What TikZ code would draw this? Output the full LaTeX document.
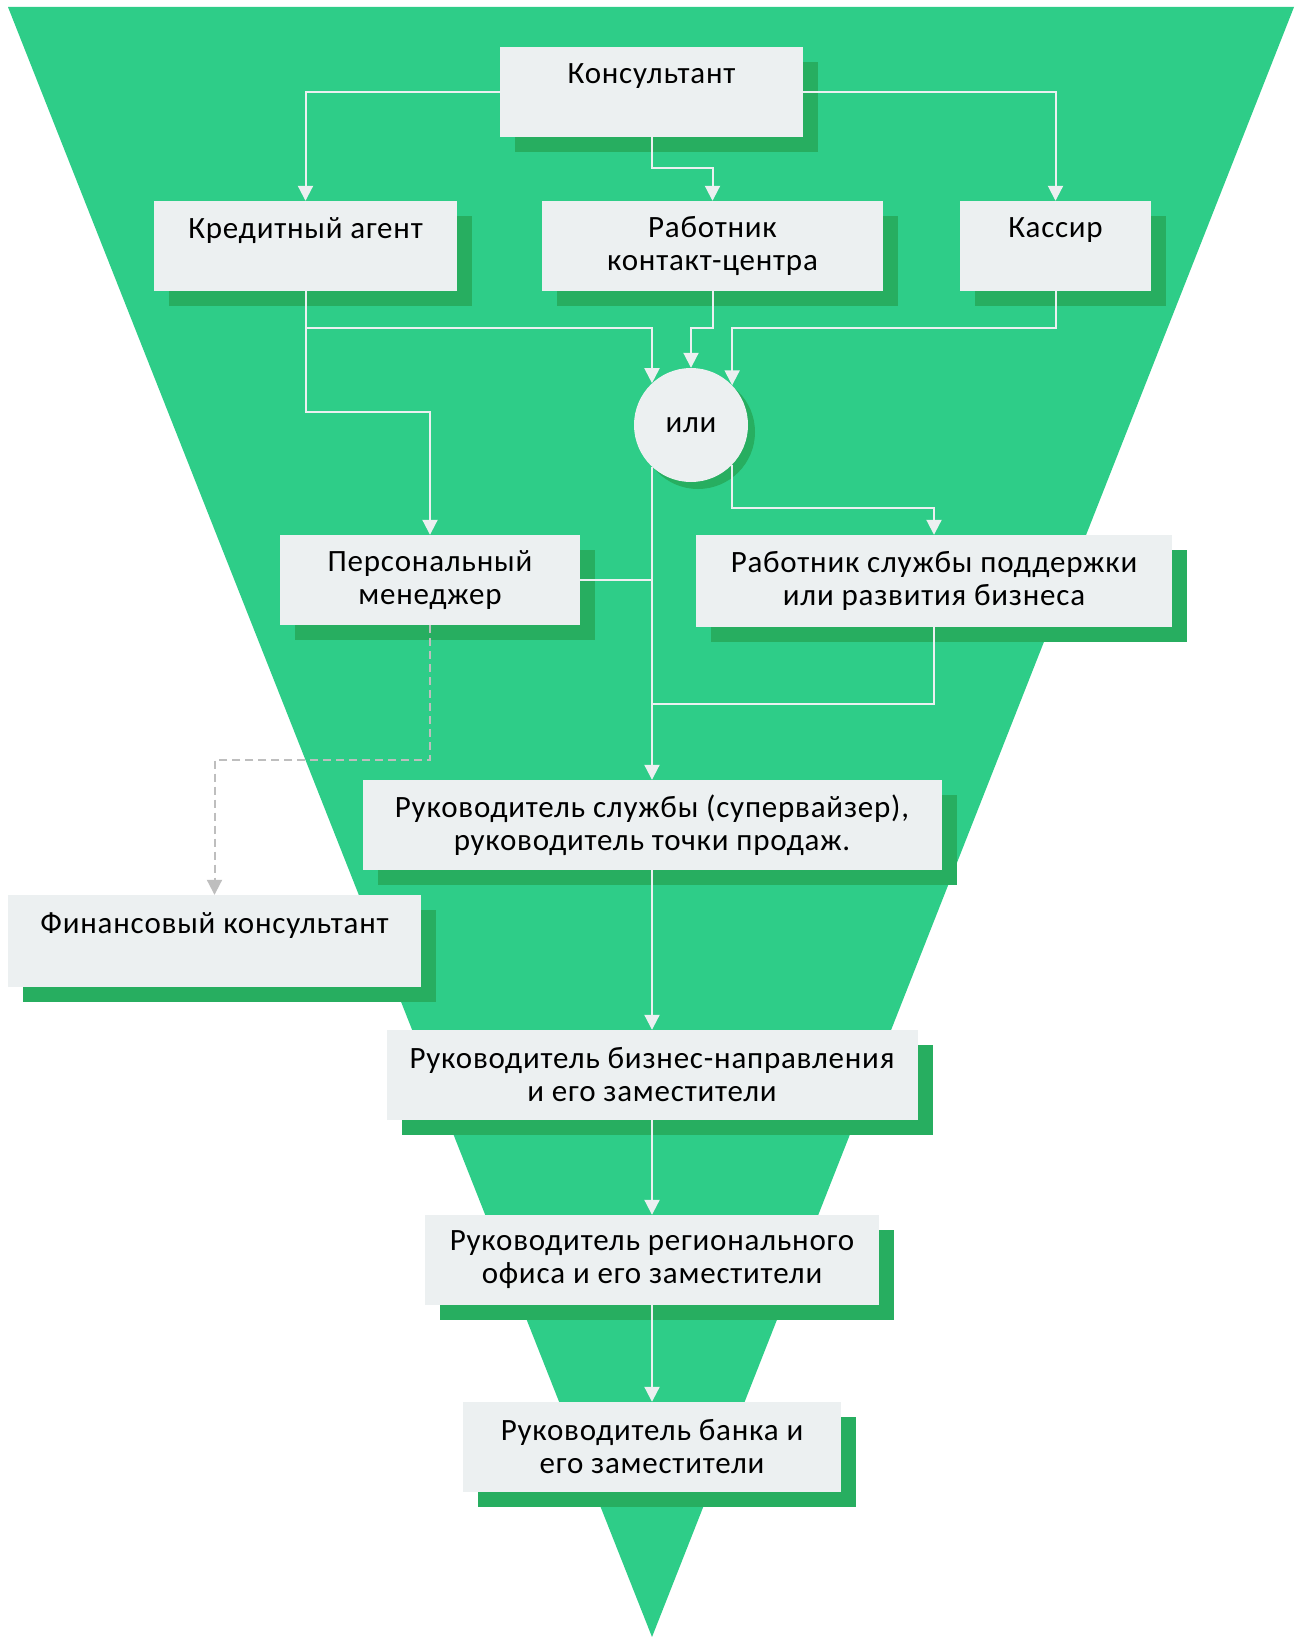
\documentclass[tikz,border=0pt]{standalone}
\usepackage{fontspec}
\setmainfont[LetterSpace = 2.5]{Carlito}
\usetikzlibrary{arrows.meta,shadows}

\definecolor{funnel}{RGB}{46,205,136}
\definecolor{shade}{RGB}{39,174,96}
\definecolor{card}{RGB}{236,240,241}
\definecolor{dashgray}{RGB}{190,190,190}

\newcommand{\oneline}{\\[-6pt]\strut}

\begin{document}
\begin{tikzpicture}[x = 1pt, y = -1pt,
    post/.style = {rectangle, fill = card, minimum height = 90pt, inner sep = 0pt, align = center,
      font = \fontsize{31}{33}\selectfont,
      drop shadow = {shadow xshift = 15pt, shadow yshift = -15pt, fill = shade, opacity = 1}},
    ornode/.style = {circle, fill = card, minimum size = 114pt, inner sep = 0pt,
      font = \fontsize{31}{33}\selectfont,
      drop shadow = {shadow xshift = 7pt, shadow yshift = -7pt, fill = shade, opacity = 1}},
    wire/.style = {draw = card, line width = 2pt},
    link/.style = {wire, -{Triangle[width = 15pt, length = 15pt]}},
    hint/.style = {draw = dashgray, line width = 2pt, dash pattern = on 8pt off 5pt,
      -{Triangle[width = 15pt, length = 15pt]}}]

   \useasboundingbox (0,0) rectangle (1304,1637);
   \fill [white] (0,0) rectangle (1304,1637);
   \fill [funnel] (8,7) -- (1294,7) -- (652,1637) -- cycle;

   \node [post, minimum width = 303pt] (kons) at (651.5,92) {Консультант\oneline};
   \node [post, minimum width = 303pt] (kred) at (305.5,246) {Кредитный агент\oneline};
   \node [post, minimum width = 341pt] (rabcc) at (712.5,246) {Работник\\контакт-центра};
   \node [post, minimum width = 191pt] (kass) at (1055.5,246) {Кассир\oneline};
   \node [ornode] (ili) at (691,425) {или};
   \node [post, minimum width = 300pt] (pers) at (430,580) {Персональный\\менеджер};
   \node [post, minimum width = 476pt, minimum height = 92pt] (rabsl) at (934,581)
     {Работник службы поддержки\\или развития бизнеса};
   \node [post, minimum width = 579pt] (rukserv) at (652,825)
     {Руководитель службы (супервайзер),\\руководитель точки продаж.};
   \node [post, minimum width = 413pt, minimum height = 92pt] (fin) at (214.5,941)
     {Финансовый консультант\oneline};
   \node [post, minimum width = 531pt] (rukbiz) at (652,1075)
     {Руководитель бизнес-направления\\и его заместители};
   \node [post, minimum width = 454pt] (rukreg) at (652,1260)
     {Руководитель регионального\\офиса и его заместители};
   \node [post, minimum width = 378pt] (rukbank) at (652,1447)
     {Руководитель банка и\\его заместители};

   \coordinate (bus) at (0,328);
   \coordinate (merge) at (652,704);

   \draw [link] (kons.west) -| (kred.north);
   \draw [link] (kons.east) -| (kass.north);
   \draw [link] (kons.south) -- ++(0,31) -| (rabcc.north);

   \draw [link] (kred.south) -- (kred.south |- bus) -| (ili.133);
   \draw [link] (rabcc.south) -- (rabcc.south |- bus) -| (ili.north);
   \draw [link] (kass.south) -- (kass.south |- bus) -| (ili.44);
   \draw [link] (kred.south) -- ++(0,121) -| (pers.north);

   \draw [link] (ili.-44) -- ++(0,43) -| (rabsl.north);
   \draw [link] (ili.-133) -- (ili.-133 |- rukserv.north);
   \draw [wire] (pers.east) -| (merge);
   \draw [wire] (rabsl.south) |- (merge);

   \draw [hint] (pers.south) -- ++(0,135) -| (fin.north);

   \draw [link] (rukserv) -- (rukbiz);
   \draw [link] (rukbiz) -- (rukreg);
   \draw [link] (rukreg) -- (rukbank);

\end{tikzpicture}
\end{document}
